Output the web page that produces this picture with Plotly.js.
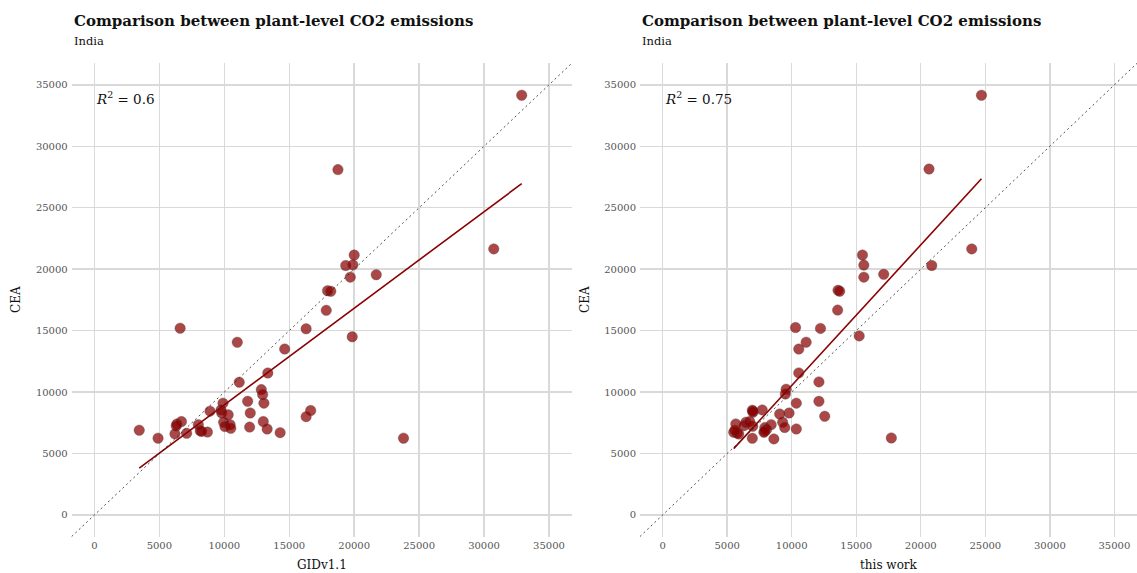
<!DOCTYPE html>
<html>
<head>
<meta charset="utf-8">
<script src="https://cdn.plot.ly/plotly-3.0.1.min.js"></script>
<style>html,body{margin:0;padding:0;background:#fff;}#chart{width:1137px;height:573px;}</style>
</head>
<body>
<div id="chart"></div>
<script>
// ---- data: left panel (GIDv1.1 vs CEA)
const gidX = [32900,18750,30750,20000,19350,19900,19700,21700,17950,18200,17850,16300,6600,19850,11000,14650,13350,11150,12850,12950,13050,11800,12000,8900,9900,9750,9800,10300,9950,10050,10450,10500,13000,11950,13300,14300,16300,16650,6700,6350,6300,6200,7100,8000,8150,8250,8700,3450,4900,23800];
const gidCEA = [34150,28100,21650,21150,20300,20350,19350,19550,18250,18200,16650,15150,15200,14500,14050,13500,11550,10800,10200,9800,9100,9250,8300,8450,9100,8550,8300,8150,7550,7200,7350,7050,7600,7150,7000,6700,8000,8500,7600,7400,7250,6600,6650,7350,6850,6800,6750,6900,6250,6250];
// ---- data: right panel (this work vs CEA)
const twX = [24700,20640,23950,15480,20850,15590,15590,17130,13590,13720,13560,10300,12230,15230,11120,10550,10550,12110,9570,9510,10360,12110,12560,17720,9800,9070,7720,6950,7000,9300,9460,10360,8410,7920,8050,7850,8620,6950,5670,6460,6310,6980,5510,5770,5900,7000,5600,7900,6750];
const twCEA = [34150,28150,21650,21150,20300,20330,19350,19580,18280,18210,16670,15250,15180,14570,14060,13500,11560,10830,10230,9850,9100,9250,8030,6270,8300,8220,8550,8520,8360,7550,7120,7000,7350,7110,6950,6730,6190,6240,7410,7550,7270,7220,6730,6670,6590,8450,6900,6800,7600];
const ticks = [0,5000,10000,15000,20000,25000,30000,35000];
const tickText = ticks.map(String);
const r2Left = '0.6', r2Right = '0.75';
const titleText = 'Comparison between plant-level CO2 emissions';
const subtitleText = 'India';
const xTitleLeft = 'GIDv1.1', xTitleRight = 'this work', yTitle = 'CEA';
const axisRange = [-1750, 36750];

function fit(x, y) {
  const n = x.length;
  const mx = x.reduce((a,b)=>a+b,0)/n, my = y.reduce((a,b)=>a+b,0)/n;
  let sxy=0, sxx=0;
  for (let i=0;i<n;i++){ sxy+=(x[i]-mx)*(y[i]-my); sxx+=(x[i]-mx)**2; }
  const b = sxy/sxx, a = my - b*mx;
  const x0 = Math.min(...x), x1 = Math.max(...x);
  return {x:[x0,x1], y:[a+b*x0, a+b*x1]};
}

const SERIF = '"DejaVu Serif", "Liberation Serif", serif';
const marker = {size:10.5, color:'rgba(139,0,0,0.72)', line:{color:'rgba(70,70,70,0.55)', width:0.6}};
const fl = fit(gidX, gidCEA), fr = fit(twX, twCEA);

const traces = [
  {type:'scatter', mode:'lines', x:fl.x, y:fl.y, xaxis:'x', yaxis:'y', line:{color:'#8b0000', width:1.6}, hoverinfo:'skip'},
  {type:'scatter', mode:'markers', x:gidX, y:gidCEA, xaxis:'x', yaxis:'y', marker:marker},
  {type:'scatter', mode:'lines', x:fr.x, y:fr.y, xaxis:'x2', yaxis:'y2', line:{color:'#8b0000', width:1.6}, hoverinfo:'skip'},
  {type:'scatter', mode:'markers', x:twX, y:twCEA, xaxis:'x2', yaxis:'y2', marker:marker}
];

const W = 1137, H = 573;
const ax = (dom, anchor) => ({
  domain: dom, anchor: anchor, range: axisRange, tickvals: ticks, ticktext: tickText,
  showgrid: true, gridcolor: '#d9d9d9', gridwidth: 1.4, zeroline: false, showline: false,
  ticks: '', tickfont: {family: SERIF, size: 10, color: '#555'}, fixedrange: true
});
const yDom = [(H-536.5)/H, (H-63.3)/H];

const layout = {
  width: W, height: H, margin: {l:0, r:0, t:0, b:0}, showlegend: false,
  paper_bgcolor: '#fff', plot_bgcolor: '#fff',
  xaxis: Object.assign(ax([71.7/W, 571.7/W], 'y'), {ticklabelstandoff: 1}),
  yaxis: Object.assign(ax(yDom, 'x'), {ticklabelstandoff: 3}),
  xaxis2: Object.assign(ax([640/W, 1], 'y2'), {ticklabelstandoff: 1}),
  yaxis2: Object.assign(ax(yDom, 'x2'), {ticklabelstandoff: 3}),
  shapes: [
    {type:'line', xref:'x domain', yref:'y domain', x0:0, y0:0, x1:1, y1:1, line:{color:'#222', width:0.8, dash:'2px,3px'}, layer:'above'},
    {type:'line', xref:'x2 domain', yref:'y2 domain', x0:0, y0:0, x1:1, y1:1, line:{color:'#222', width:0.8, dash:'2px,3px'}, layer:'above'}
  ],
  annotations: [
    {xref:'paper', yref:'paper', x:71.7/W, y:1-21/H, xanchor:'left', yanchor:'middle', showarrow:false, text:'<b>'+titleText+'</b>', font:{family:SERIF, size:15, color:'#111'}},
    {xref:'paper', yref:'paper', x:71.7/W, y:1-41/H, xanchor:'left', yanchor:'middle', showarrow:false, text:subtitleText, font:{family:SERIF, size:11.5, color:'#111'}},
    {xref:'paper', yref:'paper', x:640/W, y:1-21/H, xanchor:'left', yanchor:'middle', showarrow:false, text:'<b>'+titleText+'</b>', font:{family:SERIF, size:15, color:'#111'}},
    {xref:'paper', yref:'paper', x:640/W, y:1-41/H, xanchor:'left', yanchor:'middle', showarrow:false, text:subtitleText, font:{family:SERIF, size:11.5, color:'#111'}},
    {xref:'x', yref:'y', x:0, y:33900, xanchor:'left', yanchor:'middle', showarrow:false, text:'<i>R</i><sup>2</sup> = '+r2Left, font:{family:SERIF, size:13.5, color:'#111'}},
    {xref:'x2', yref:'y2', x:0, y:33900, xanchor:'left', yanchor:'middle', showarrow:false, text:'<i>R</i><sup>2</sup> = '+r2Right, font:{family:SERIF, size:13.5, color:'#111'}},
    {xref:'paper', yref:'paper', x:(71.7+571.7)/2/W, y:1-565/H, xanchor:'center', yanchor:'middle', showarrow:false, text:xTitleLeft, font:{family:SERIF, size:12, color:'#111'}},
    {xref:'paper', yref:'paper', x:(640+1137)/2/W, y:1-565/H, xanchor:'center', yanchor:'middle', showarrow:false, text:xTitleRight, font:{family:SERIF, size:12, color:'#111'}},
    {xref:'paper', yref:'paper', x:16/W, y:1-300/H, xanchor:'center', yanchor:'middle', showarrow:false, textangle:-90, text:yTitle, font:{family:SERIF, size:12, color:'#111'}},
    {xref:'paper', yref:'paper', x:585/W, y:1-300/H, xanchor:'center', yanchor:'middle', showarrow:false, textangle:-90, text:yTitle, font:{family:SERIF, size:12, color:'#111'}}
  ]
};
Plotly.newPlot('chart', traces, layout, {staticPlot:true, displayModeBar:false});
</script>
</body>
</html>
